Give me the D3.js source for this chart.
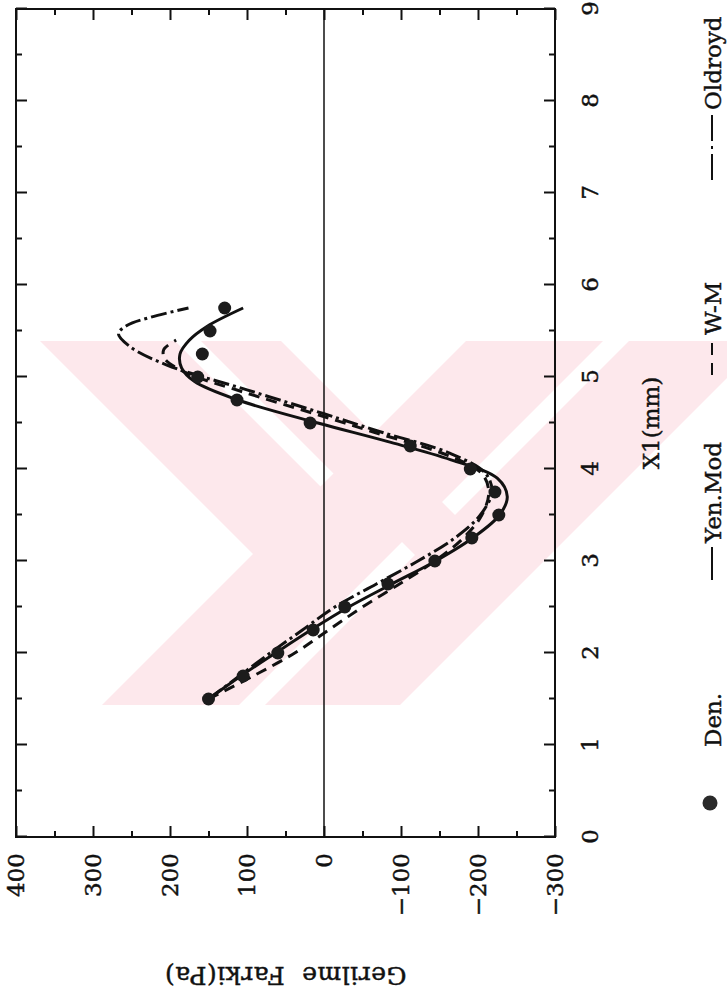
<!DOCTYPE html>
<html>
<head>
<meta charset="utf-8">
<script src="https://cdn.jsdelivr.net/npm/d3@7"></script>
<style>
  body { margin: 0; background: #fff; }
  svg { display: block; }
  text { font-family: "DejaVu Serif", serif; fill: #111; stroke: #111; stroke-width: 0.45px; }
</style>
</head>
<body>
<svg id="chart" width="727" height="998"></svg>
<script>
// ---- data -------------------------------------------------------------
const xTicks = [0, 1, 2, 3, 4, 5, 6, 7, 8, 9];
const xMinor = [0.5, 1.5, 2.5, 3.5, 4.5, 5.5, 6.5, 7.5, 8.5];
const yTicks = [400, 300, 200, 100, 0, -100, -200, -300];
const yMinor = [350, 250, 150, 50, -50, -150, -250];

// measured stress difference (Den.)
const denX = [1.5, 1.75, 2.0, 2.25, 2.5, 2.75, 3.0, 3.25, 3.5, 3.75, 4.0, 4.25, 4.5, 4.75, 5.0, 5.25, 5.5, 5.75];
const denY = [150, 105, 60, 14, -27, -83, -144, -192, -227, -222, -190, -112, 18, 113, 164, 158, 148, 129];

// Yen.Mod model
const yenX = [1.5, 1.75, 2.0, 2.25, 2.5, 2.75, 3.0, 3.25, 3.5, 3.7, 3.9, 4.1, 4.3, 4.5, 4.75, 4.95, 5.1, 5.25, 5.4, 5.55, 5.75];
const yenY = [150, 108, 63, 17, -32, -88, -145, -193, -228, -238, -225, -165, -82, 8, 112, 168, 185, 187, 175, 152, 105];

// W-M model
const wmX = [1.5, 1.75, 2.0, 2.25, 2.5, 2.75, 3.0, 3.25, 3.5, 3.75, 3.95, 4.15, 4.4, 4.6, 4.85, 5.05, 5.2, 5.3, 5.4];
const wmY = [150, 92, 38, -6, -50, -98, -144, -181, -205, -214, -205, -160, -65, 12, 110, 180, 207, 208, 192];

// Oldroyd model
const oldX = [1.5, 1.75, 2.0, 2.25, 2.5, 2.75, 3.0, 3.25, 3.5, 3.75, 3.95, 4.17, 4.4, 4.6, 4.86, 5.13, 5.33, 5.47, 5.56, 5.65, 5.75];
const oldY = [150, 110, 70, 28, -14, -68, -122, -170, -203, -218, -210, -164, -75, 0, 100, 204, 252, 267, 256, 225, 176];

const legendNames = ["Den.", "Yen.Mod", "W-M", "Oldroyd"];

// ---- page -------------------------------------------------------------
const svg = d3.select("#chart");
const FONT = 23;

// pale background emblem: rising stripes with two falling arms
const emblem = svg.append("g").attr("clip-path", "url(#emblemClip)");
svg.append("clipPath").attr("id", "emblemClip")
  .append("rect").attr("x", 40).attr("y", 341).attr("width", 687).attr("height", 364);
const yT = 300, yB = 760;
const rise = (b1, b2) => [[b1 - yT, yT], [b2 - yT, yT], [b2 - yB, yB], [b1 - yB, yB]];
const fall = (a1, a2, bEnd) => [[a1 + yT, yT], [a2 + yT, yT],
  [(a2 + bEnd) / 2, (bEnd - a2) / 2], [(a1 + bEnd) / 2, (bEnd - a1) / 2]];
const shapes = [rise(807, 944), rise(970, 1105), fall(-301, -166, 880), fall(-140, -60, 1030)];
emblem.selectAll("polygon").data(shapes).join("polygon")
  .attr("points", d => d.map(p => p.join(",")).join(" "))
  .attr("fill", "#fde8ec");

// chart is laid out in its own frame, then turned a quarter turn
const W = 828, H = 539;
const g = svg.append("g").attr("transform", "translate(16,837) rotate(-90)");

const x = d3.scaleLinear().domain([0, 9]).range([0, W]);
const y = d3.scaleLinear().domain([-300, 400]).range([H, 0]);

function styleAxis(sel) {
  sel.select(".domain").remove();
  sel.selectAll(".tick line").attr("stroke", "#111").attr("stroke-width", 2);
  sel.selectAll(".tick text").attr("font-size", FONT).attr("font-family", "DejaVu Serif").attr("fill", "#111");
}

// bottom (X1) axis with labels
g.append("g").attr("transform", `translate(0,${H})`)
  .call(d3.axisBottom(x).tickValues(xTicks).tickSizeInner(-11).tickSizeOuter(0).tickPadding(27).tickFormat(d3.format("d")))
  .call(styleAxis);
g.append("g").attr("transform", `translate(0,${H})`)
  .call(d3.axisBottom(x).tickValues(xMinor).tickSizeInner(-6).tickSizeOuter(0).tickFormat(""))
  .call(styleAxis);
// top ticks
g.append("g")
  .call(d3.axisTop(x).tickValues(xTicks).tickSizeInner(-11).tickSizeOuter(0).tickFormat(""))
  .call(styleAxis);
g.append("g")
  .call(d3.axisTop(x).tickValues(xMinor).tickSizeInner(-6).tickSizeOuter(0).tickFormat(""))
  .call(styleAxis);
// left (stress) axis with labels
g.append("g")
  .call(d3.axisLeft(y).tickValues(yTicks).tickSizeInner(-11).tickSizeOuter(0).tickPadding(16)
    .tickFormat(d => d < 0 ? "\u2212" + Math.abs(d) : String(d)))
  .call(styleAxis);
g.append("g")
  .call(d3.axisLeft(y).tickValues(yMinor).tickSizeInner(-6).tickSizeOuter(0).tickFormat(""))
  .call(styleAxis);
// right ticks
g.append("g").attr("transform", `translate(${W},0)`)
  .call(d3.axisRight(y).tickValues(yTicks).tickSizeInner(-11).tickSizeOuter(0).tickFormat(""))
  .call(styleAxis);
g.append("g").attr("transform", `translate(${W},0)`)
  .call(d3.axisRight(y).tickValues(yMinor).tickSizeInner(-6).tickSizeOuter(0).tickFormat(""))
  .call(styleAxis);

// frame and zero line
g.append("rect").attr("width", W).attr("height", H)
  .attr("fill", "none").attr("stroke", "#111").attr("stroke-width", 2);
g.append("line").attr("x1", 0).attr("x2", W).attr("y1", y(0)).attr("y2", y(0))
  .attr("stroke", "#111").attr("stroke-width", 1.5);

// model curves
const line = d3.line().x(d => x(d[0])).y(d => y(d[1])).curve(d3.curveCatmullRom.alpha(0.5));
const zip = (a, b) => a.map((v, i) => [v, b[i]]);
const series = [
  { pts: zip(yenX, yenY), dash: null },
  { pts: zip(wmX, wmY), dash: "11,7" },
  { pts: zip(oldX, oldY), dash: "16,4,3,4" }
];
g.selectAll("path.model").data(series).join("path")
  .attr("class", "model")
  .attr("d", d => line(d.pts))
  .attr("fill", "none").attr("stroke", "#111").attr("stroke-width", 3)
  .attr("stroke-linecap", "butt")
  .attr("stroke-dasharray", d => d.dash);

// measured points
g.selectAll("circle.den").data(zip(denX, denY)).join("circle")
  .attr("class", "den")
  .attr("cx", d => x(d[0])).attr("cy", d => y(d[1])).attr("r", 6.5)
  .attr("fill", "#1c1c1c");

// axis titles
g.append("text").attr("x", x(4.5)).attr("y", H + 104)
  .attr("text-anchor", "middle").attr("font-size", FONT).text("X1(mm)");
g.append("text").attr("transform", `translate(-130,${H / 2}) rotate(-90)`)
  .attr("text-anchor", "middle").attr("font-size", 25)
  .attr("letter-spacing", 0.5)
  .text("Gerilme\u00a0\u00a0Farki(Pa)");

// legend row
const LB = H + 166;      // text baseline
const LM = H + 157;      // symbol centre line
const lg = g.append("g");
lg.append("circle").attr("cx", 34).attr("cy", LM - 2).attr("r", 7.5).attr("fill", "#2a2a2a");
lg.append("text").attr("x", 90).attr("y", LB).attr("font-size", FONT).text(legendNames[0]);
lg.append("line").attr("x1", 257).attr("x2", 290).attr("y1", LM).attr("y2", LM)
  .attr("stroke", "#111").attr("stroke-width", 2);
lg.append("text").attr("x", 294).attr("y", LB).attr("font-size", FONT).text(legendNames[1]);
lg.append("line").attr("x1", 462).attr("x2", 498).attr("y1", LM).attr("y2", LM)
  .attr("stroke", "#111").attr("stroke-width", 2).attr("stroke-dasharray", "12,8");
lg.append("text").attr("x", 502).attr("y", LB).attr("font-size", FONT).text(legendNames[2]);
lg.append("line").attr("x1", 657).attr("x2", 722).attr("y1", LM).attr("y2", LM)
  .attr("stroke", "#111").attr("stroke-width", 2).attr("stroke-dasharray", "26,5,3,5");
lg.append("text").attr("x", 727).attr("y", LB).attr("font-size", FONT).text(legendNames[3]);
</script>
</body>
</html>
